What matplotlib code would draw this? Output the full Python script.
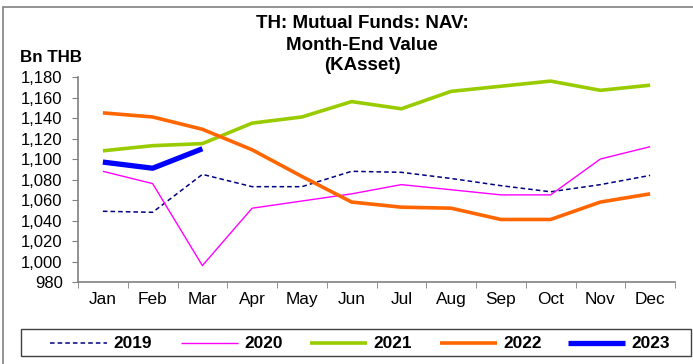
import numpy as np
import matplotlib.pyplot as plt
from matplotlib.patches import Rectangle
from matplotlib.lines import Line2D

plt.rcParams['font.family'] = ['Liberation Sans', 'DejaVu Sans']

months = ["Jan", "Feb", "Mar", "Apr", "May", "Jun",
          "Jul", "Aug", "Sep", "Oct", "Nov", "Dec"]

nav_2019 = [1049, 1048, 1085, 1073, 1073, 1088, 1087, 1081, 1074, 1068, 1075, 1084]
nav_2020 = [1088, 1076, 996, 1052, 1059, 1066, 1075, 1070, 1065, 1065, 1100, 1112]
nav_2021 = [1108, 1113, 1115, 1135, 1141, 1156, 1149, 1166, 1171, 1176, 1167, 1172]
nav_2022 = [1145, 1141, 1129, 1109, 1083, 1058, 1053, 1052, 1041, 1041, 1058, 1066]
nav_2023 = [1097, 1091, 1110]

title_lines = ["TH: Mutual Funds: NAV:", "Month-End Value", "(KAsset)"]

series = [
    ("2019", nav_2019, dict(color="#000080", lw=1.1, ls=(0, (3, 2)))),
    ("2020", nav_2020, dict(color="#FF00FF", lw=1.0, ls="-")),
    ("2021", nav_2021, dict(color="#99CC00", lw=2.6, ls="-")),
    ("2022", nav_2022, dict(color="#FF6600", lw=2.6, ls="-")),
    ("2023", nav_2023, dict(color="#0000FF", lw=3.8, ls="-")),
]

W, H = 693, 364
fig = plt.figure(figsize=(W / 100, H / 100), dpi=100)
ax = fig.add_axes([78 / W, 1 - 282 / H, (675 - 78) / W, (282 - 77) / H])

for name, vals, style in series:
    x = np.arange(len(vals))
    ax.plot(x, vals, solid_capstyle="butt", **style)

ax.set_xlim(-0.5, 11.5)
ax.set_ylim(980, 1180)
ax.set_yticks(np.arange(980, 1181, 20))
ax.set_yticklabels([f"{v:,}" for v in range(980, 1181, 20)], fontsize=12)
ax.set_xticks(np.arange(12))
ax.set_xticklabels(months, fontsize=12.4)
ax.set_xticks(np.arange(-0.5, 12, 1), minor=True)
ax.tick_params(axis="x", which="major", length=0, pad=7.5)
ax.tick_params(axis="x", which="minor", length=4, color="#808080", direction="out")
ax.tick_params(axis="y", length=4.5, color="#808080", direction="out", pad=6.5)
for side in ("top", "right"):
    ax.spines[side].set_visible(False)
for side in ("left", "bottom"):
    ax.spines[side].set_color("#808080")
    ax.spines[side].set_linewidth(1.2)

# title, one line at a time
for line, base in zip(title_lines, [28, 50, 70]):
    fig.text(362 / W, 1 - base / H, line, ha="center", va="baseline",
             fontsize=13.5, fontweight="bold")
fig.text(20 / W, 1 - 62 / H, "Bn THB", ha="left", va="baseline",
         fontsize=12.2, fontweight="bold")

# outer frame
fig.add_artist(Rectangle((3 / W, -0.01), 1.0, 1 - 7 / H + 0.01,
                         transform=fig.transFigure, fill=False,
                         edgecolor="#808080", lw=1.2))

# legend box drawn by hand to spread the entries across the width
fig.add_artist(Rectangle((21 / W, 1 - 356 / H), (691 - 21) / W, 27 / H,
                         transform=fig.transFigure, fill=False,
                         edgecolor="#404040", lw=1.0))
leg_x = [50, 181, 310, 440, 568]
for (name, vals, style), x0 in zip(series, leg_x):
    fig.add_artist(Line2D([x0 / W, (x0 + 57) / W], [1 - 342.5 / H] * 2,
                          transform=fig.transFigure, solid_capstyle="butt",
                          **style))
    fig.text((x0 + 63) / W, 1 - 348 / H, name, ha="left", va="baseline",
             fontsize=12.4, fontweight="bold")

fig.savefig("out.png", dpi=100)
